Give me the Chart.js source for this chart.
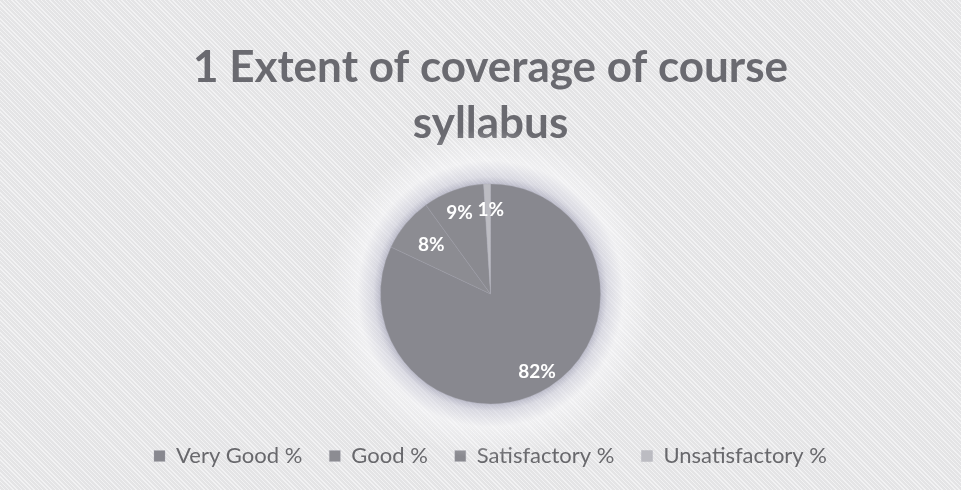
<!DOCTYPE html>
<html>
<head>
<meta charset="utf-8">
<script src="https://cdn.jsdelivr.net/npm/chart.js@4.4.1/dist/chart.umd.min.js"></script>
<style>
  html, body { margin: 0; padding: 0; }
  body {
    width: 961px; height: 490px; overflow: hidden;
    background-color: #e9e9eb;
    background-image: repeating-linear-gradient(45deg, rgba(255,255,255,0.4) 0px, rgba(255,255,255,0.4) 1px, rgba(0,0,0,0.025) 1px, rgba(0,0,0,0.025) 3px);
  }
  #wrap { position: relative; width: 961px; height: 490px; }
</style>
</head>
<body>
<div id="wrap"><canvas id="chart"></canvas></div>
<script>
const categories = ["Very Good %", "Good %", "Satisfactory %", "Unsatisfactory %"];
const shares = [82, 8, 9, 1];
const sliceColors = ["#88888f", "#8c8c92", "#8a8a90", "#bcbcc2"];
const titleLines = ["1 Extent of coverage of course", "syllabus"];

// soft shadow ring behind the pie, like the scanned Excel glow
const halo = {
  id: "halo",
  beforeDatasetsDraw(chart) {
    const arc = chart.getDatasetMeta(0).data[0];
    if (!arc) return;
    const { x, y, outerRadius } = arc;
    const ctx = chart.ctx;
    ctx.save();
    const outer = outerRadius + 55;
    const g = ctx.createRadialGradient(x, y, outerRadius - 2, x, y, outer);
    g.addColorStop(0, "rgba(145,145,170,0.6)");
    g.addColorStop(0.16, "rgba(205,205,220,0.5)");
    g.addColorStop(0.45, "rgba(250,250,252,0.5)");
    g.addColorStop(1, "rgba(250,250,252,0)");
    ctx.fillStyle = g;
    ctx.beginPath();
    ctx.arc(x, y, outer, 0, Math.PI * 2);
    ctx.fill();
    ctx.restore();
  }
};

// white percentage labels inside the slices
const sliceLabels = {
  id: "sliceLabels",
  afterDatasetsDraw(chart) {
    const ctx = chart.ctx;
    const meta = chart.getDatasetMeta(0);
    const reach = [0.84, 0.7, 0.78, 0.76];
    const nudge = [-3, 0, -2, 3];
    ctx.save();
    ctx.font = "bold 19px Lato";
    ctx.fillStyle = "#ffffff";
    ctx.textAlign = "center";
    ctx.textBaseline = "middle";
    meta.data.forEach((arc, i) => {
      const mid = (arc.startAngle + arc.endAngle) / 2;
      const r = arc.outerRadius * reach[i];
      ctx.fillText(shares[i] + "%", arc.x + Math.cos(mid) * r + nudge[i], arc.y + Math.sin(mid) * r);
    });
    ctx.restore();
  }
};

new Chart(document.getElementById("chart"), {
  type: "pie",
  data: {
    labels: categories,
    datasets: [{
      data: shares,
      backgroundColor: sliceColors,
      borderColor: "rgba(170,170,180,0.3)",
      borderWidth: 1,
      radius: 110
    }]
  },
  options: {
    responsive: true,
    maintainAspectRatio: false,
    animation: false,
    layout: { padding: { top: 40, bottom: 13, left: 20 } },
    plugins: {
      title: {
        display: true,
        text: titleLines,
        color: "#6a6a70",
        font: { family: "Lato", size: 44, weight: "bold", lineHeight: 1.27 },
        padding: { top: 0, bottom: 18 }
      },
      legend: {
        position: "bottom",
        labels: {
          color: "#68686c",
          font: { family: "Lato", size: 22 },
          boxWidth: 11,
          boxHeight: 11,
          padding: 27
        }
      },
      tooltip: { enabled: false }
    }
  },
  plugins: [halo, sliceLabels]
});
</script>
</body>
</html>
